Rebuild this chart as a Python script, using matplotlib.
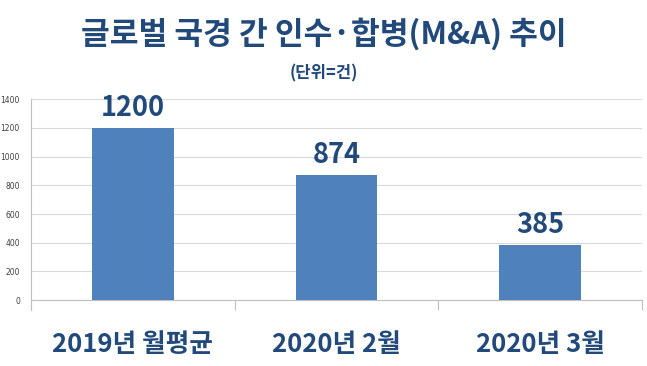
import matplotlib
matplotlib.use("Agg")
import matplotlib.pyplot as plt

plt.rcParams['font.family'] = ['Noto Sans CJK KR', 'DejaVu Sans']

categories = ["2019년 월평균", "2020년 2월", "2020년 3월"]
values = [1200, 874, 385]
yticks = [0, 200, 400, 600, 800, 1000, 1200, 1400]

title = "글로벌 국경 간 인수·합병(M&A) 추이"
subtitle = "(단위=건)"

text_color = "#21497a"
bar_color = "#4f81bd"

fig = plt.figure(figsize=(6.47, 3.66), dpi=100)
ax = fig.add_axes([0.048, 0.180, 0.944, 0.549])

x = list(range(len(categories)))
ax.bar(x, values, width=0.40, color=bar_color, zorder=3)
ax.set_xlim(-0.5, len(categories) - 0.5)
ax.set_ylim(0, 1400)
ax.set_yticks(yticks)
ax.set_yticklabels([str(v) for v in yticks], fontsize=5.5, color="#404040", family=['DejaVu Sans'])
ax.tick_params(axis='y', length=0, pad=8)
ax.grid(axis='y', color="#d9d9d9", linewidth=0.8, zorder=0)

# category boundary ticks
ax.set_xticks([-0.5, 0.5, 1.5, 2.5])
ax.set_xticklabels([])
ax.tick_params(axis='x', length=7, color="#bfbfbf", width=0.8)

for s in ['top', 'right']:
    ax.spines[s].set_visible(False)
ax.spines['left'].set_color("#bfbfbf")
ax.spines['bottom'].set_color("#bfbfbf")
ax.spines['left'].set_bounds(-70, 1400)
ax.spines['left'].set_clip_on(False)

for xi, v in zip(x, values):
    ax.annotate(str(v), (xi, v), xytext=(0, 4), textcoords='offset points',
                ha='center', va='bottom', fontsize=19.5, fontweight='bold', color=text_color)

for xi, c in zip(x, categories):
    ax.annotate(c, (xi, 0), xycoords=('data', 'axes fraction'), xytext=(0, -32),
                textcoords='offset points', ha='center', va='center',
                fontsize=18.5, fontweight='bold', color=text_color)

fig.text(0.5, 1 - 34 / 366, title, ha='center', va='center', fontsize=22.5,
         fontweight='bold', color=text_color)
fig.text(0.5, 1 - 73 / 366, subtitle, ha='center', va='center', fontsize=12,
         fontweight='bold', color=text_color)

fig.savefig("out.png", dpi=100)
